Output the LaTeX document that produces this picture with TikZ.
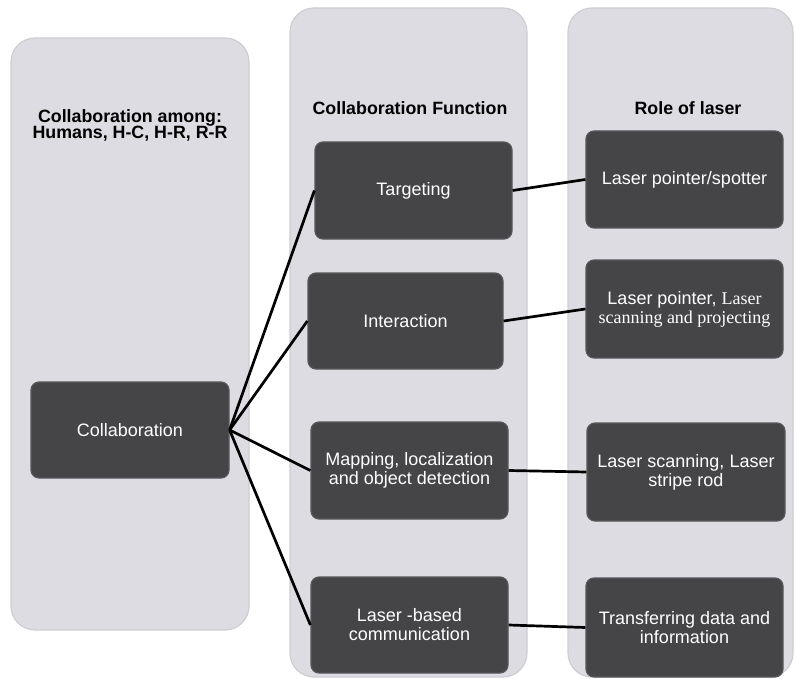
\documentclass[tikz,border=0pt]{standalone}
\usepackage{fontspec}
\setmainfont{Liberation Sans}
\newfontfamily\seriffont{Liberation Serif}
\definecolor{panelfill}{RGB}{221,220,226}
\definecolor{paneledge}{RGB}{206,205,211}
\definecolor{boxfill}{RGB}{69,69,71}
\definecolor{boxedge}{RGB}{88,88,91}
\tikzset{
  panel/.style={fill=panelfill, draw=paneledge, line width=1.2pt, rounded corners=24pt},
  darkbox/.style={fill=boxfill, draw=boxedge, line width=1.2pt, rounded corners=8pt,
    text=white, align=center, inner sep=0pt,
    font=\fontsize{18}{19}\selectfont},
  heading/.style={align=center, text=black, inner sep=0pt,
    font=\bfseries\fontsize{17.8}{16.5}\selectfont},
  link/.style={black, line width=2.7pt}
}
\begin{document}
\begin{tikzpicture}[x=1pt, y=-1pt]
\useasboundingbox (0,0) rectangle (795,679);
% column panels
\draw[panel] (11,38) rectangle (249,630);
\draw[panel] (290,8) rectangle (527,677);
\draw[panel] (568,8) rectangle (793,677);
% column headings
\node[heading] (h1) at (130,125.5) {Collaboration among:\\Humans, H-C, H-R, R-R};
\node[heading] (h2) at (410,108) {Collaboration Function};
\node[heading] (h3) at (688,108) {Role of laser};
% boxes
\node[darkbox, minimum width=198pt, minimum height=96pt] (collab) at (130,430) {Collaboration};
\node[darkbox, minimum width=197pt, minimum height=97pt] (target) at (413.5,190.5) {Targeting};
\node[darkbox, minimum width=195pt, minimum height=96pt] (inter) at (405.5,321) {Interaction};
\node[darkbox, minimum width=197pt, minimum height=97pt] (mapping) at (409.5,470.5) {Mapping, localization\\and object detection};
\node[darkbox, minimum width=197pt, minimum height=96pt] (comm) at (409.5,625) {Laser -based\\communication};
\node[darkbox, minimum width=197pt, minimum height=97pt] (spot) at (684.5,179.5) {Laser pointer/spotter};
\node[darkbox, minimum width=197pt, minimum height=98pt] (pointer) at (684.5,309) {Laser pointer, {\seriffont Laser}\\{\seriffont scanning and projecting}};
\node[darkbox, minimum width=198pt, minimum height=98pt] (scan) at (686,472) {Laser scanning, Laser\\stripe rod};
\node[darkbox, minimum width=197pt, minimum height=99pt] (transfer) at (684.5,627.5) {Transferring data and\\information};
% connectors
\draw[link] (collab.east) -- (target.west);
\draw[link] (collab.east) -- (inter.west);
\draw[link] (collab.east) -- (mapping.west);
\draw[link] (collab.east) -- (comm.west);
\draw[link] (target.east) -- (spot.west);
\draw[link] (inter.east) -- (pointer.west);
\draw[link] (mapping.east) -- (scan.west);
\draw[link] (comm.east) -- (transfer.west);
\end{tikzpicture}
\end{document}
